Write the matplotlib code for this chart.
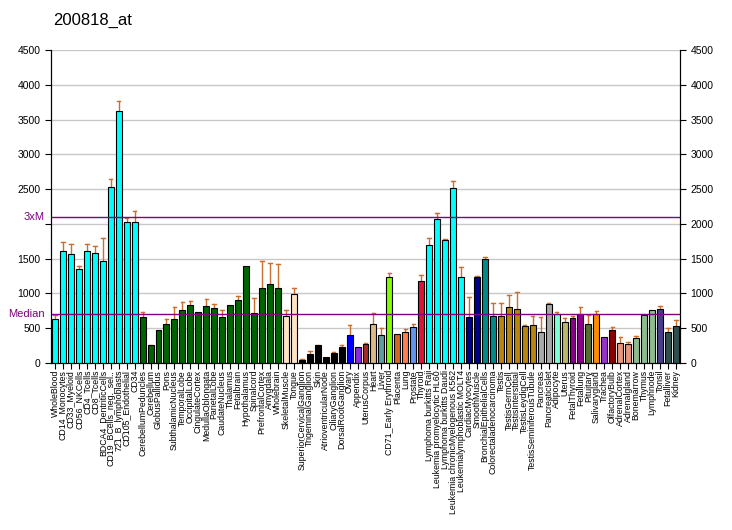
import matplotlib
matplotlib.use("Agg")
import matplotlib.pyplot as plt

plt.rcParams["font.family"] = ["Liberation Sans", "DejaVu Sans"]

# data
labels = ["WholeBlood", "CD14_Monocytes", "CD33_Myeloid", "CD56_NKCells", "CD4_Tcells",
          "CD8_Tcells", "BDCA4_DentriticCells", "CD19_BCells_neg._sel..", "721_B_lymphoblasts",
          "CD105_Endothelial", "CD34", "CerebellumPeduncles", "Cerebellum", "GlobusPallidus",
          "Pons", "SubthalamicNucleus", "TemporalLobe", "OccipitalLobe", "CingulateCortex",
          "MedullaOblongata", "ParietalLobe", "CaudateNucleus", "Thalamus", "Fetalbrain",
          "Hypothalamus", "Spinalcord", "PrefrontalCortex", "Amygdala", "Wholebrain",
          "SkeletalMuscle", "Tongue", "SuperiorCervicalGanglion", "TrigeminalGanglion", "Skin",
          "AtrioventricularNode", "CiliaryGanglion", "DorsalRootGanglion", "Ovary", "Appendix",
          "UterusCorpus", "Heart", "Liver", "CD71_Early Erythroid", "Placenta", "Lung",
          "Prostate", "Thyroid", "Lymphoma burkitts Raji", "Leukemia promyelocytic HL60",
          "Lymphoma burkitts Daudi", "Leukemia chronicMyelogenous K562",
          "Leukemialymphoblastic MOLT4", "CardiacMyocytes", "SmoothMuscle",
          "BronchialEpithelialCells", "Colorectaladenocarcinoma", "Testis", "TestisGermCell",
          "TestisInterstitial", "TestisLeydigCell", "TestisSeminiferousTubule", "Pancreas",
          "PancreaticIslet", "Adipocyte", "Uterus", "FetalThyroid", "Fetallung", "Pituitary",
          "Salivarygland", "Trachea", "OlfactoryBulb", "AdrenalCortex", "Adrenalgland",
          "Bonemarrow", "Thymus", "Lymphnode", "Tonsil", "Fetalliver", "Kidney"]

values = [628, 1606, 1563, 1347, 1606, 1577, 1462, 2526, 3619, 2023, 2023,
          657, 259, 470, 556, 628, 757, 829, 729, 815, 786, 657, 829, 901, 1390,
          714, 1074, 1131, 1074, 671, 988, 43, 129, 259, 86, 144, 230, 398, 230,
          273, 556, 398, 1232, 412, 441, 513, 1175, 1692, 2066, 1764, 2516, 1232,
          661, 1237, 1491, 671, 671, 801, 772, 527, 542, 441, 844, 700, 585, 643,
          700, 556, 700, 369, 470, 283, 269, 355, 686, 757, 772, 441, 527]

# top of error bar (None = no error bar visible)
err_top = [686, 1740, 1707, 1390, 1707, 1678, 1793, 2641, 3763, 2090, 2181,
           738, 264, None, 628, 801, 873, 887, None, 916, 844, 757, None, 959, None,
           930, 1462, 1433, 1419, 757, 1074, 53, 168, 264, None, 158, 254, 542, None,
           287, 714, 503, 1290, None, 489, 556, 1261, 1793, 2152, 1778, 2617, 1376,
           949, 1251, 1520, 858, 858, 973, 1016, 541, 671, 657, 858, 729, 643, 671,
           801, 686, 743, None, 513, 369, 297, 384, None, None, 815, 499, 614]

colors = (["#00FFFF"] * 11 + ["#006400"] * 18 + ["#FFE4C4"] * 2 + ["#000000"] * 6 +
          ["#0000FF", "#8A2BE2", "#A52A2A", "#DEB887", "#5F9EA0", "#7FFF00", "#D2691E",
           "#FF7F50", "#6495ED", "#DC143C"] + ["#00FFFF"] * 5 + ["#00008B"] * 2 +
          ["#008B8B"] * 2 + ["#B8860B"] * 5 + ["#A9A9A9"] * 2 +
          ["#7FFFD4", "#BDB76B", "#8B008B", "#8B008B", "#556B2F", "#FF8C00", "#9932CC",
           "#8B0000", "#E9967A", "#E9967A"] + ["#8FBC8F"] * 3 +
          ["#483D8B", "#2F4F4F", "#2F4F4F"])

yticks = list(range(0, 4501, 500))
median = 700
three_m = 2100

fig = plt.figure(figsize=(7.32, 5.30), dpi=100)
ax = fig.add_axes([51 / 732, 1 - 363 / 530, 629 / 732, 313 / 530])

x = list(range(len(values)))
ax.bar(x, values, width=0.75, color=colors, edgecolor="black", linewidth=0.8, zorder=3)

# error bars, only the upper half
for i, (v, e) in enumerate(zip(values, err_top)):
    if e is None:
        continue
    ax.plot([i, i], [v, e], color="#C8702F", linewidth=1, zorder=2)
    ax.plot([i - 0.22, i + 0.22], [e, e], color="#C8702F", linewidth=1, zorder=2)

ax.axhline(median, color="#800080", linewidth=1, zorder=4)
ax.axhline(three_m, color="#800080", linewidth=1, zorder=4)
ax.text(-1.3, median, "Median", color="#800080", fontsize=8, ha="right", va="center")
ax.text(-1.3, three_m, "3xM", color="#800080", fontsize=8, ha="right", va="center")

ax.set_xlim(-0.5, len(values) - 0.5)
ax.set_ylim(0, 4500)
ax.set_yticks(yticks)
# left side: the 3xM label takes the place of 2000
ax.set_yticklabels(["" if t == 2000 else str(t) for t in yticks])
ax.yaxis.grid(True, color="#C8C8C8", linewidth=1, zorder=0)
ax.tick_params(axis="y", labelsize=7.5, length=4)

ax2 = ax.twinx()
ax2.set_ylim(0, 4500)
ax2.set_yticks(yticks)
ax2.tick_params(axis="y", labelsize=7.5, length=4)
ax2.spines["top"].set_visible(False)

ax.set_xticks(x)
ax.set_xticklabels(labels, rotation=90, fontsize=6.3)
ax.tick_params(axis="x", length=4, pad=1)
ax.spines["top"].set_visible(False)

fig.text(53 / 732, 1 - 20 / 530, "200818_at", fontsize=12, va="center")

fig.savefig("out.png", dpi=100)
